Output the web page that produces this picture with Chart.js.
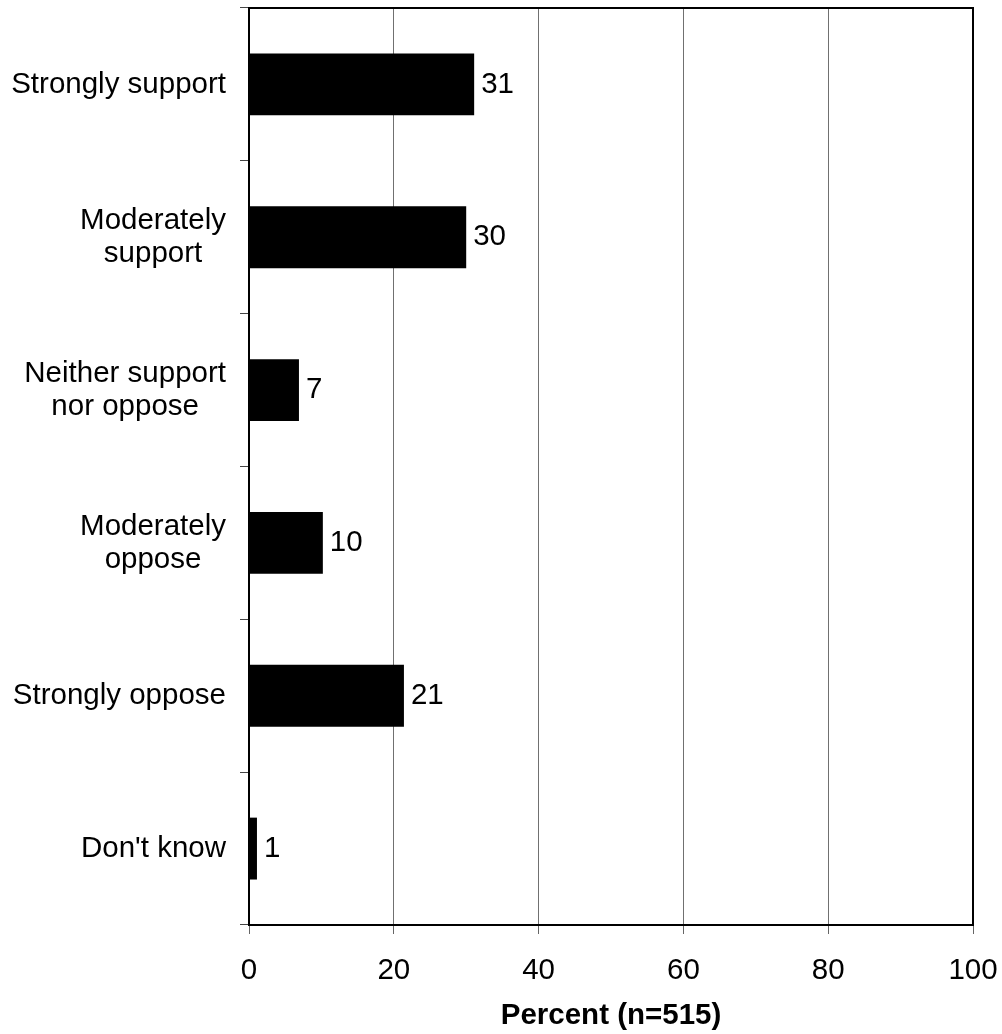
<!DOCTYPE html>
<html>
<head>
<meta charset="utf-8">
<style>
  html, body { margin: 0; padding: 0; background: #fff; }
  #wrap { width: 1002px; height: 1034px; }
</style>
<script src="https://cdn.jsdelivr.net/npm/chart.js@4.4.1/dist/chart.umd.min.js"></script>
</head>
<body>
<div id="wrap"><canvas id="chart"></canvas></div>
<script>
const categories = [
  ["Strongly support"],
  ["Moderately", "support"],
  ["Neither support", "nor oppose"],
  ["Moderately", "oppose"],
  ["Strongly oppose"],
  ["Don't know"],
];
const percentValues = [31.1, 30, 6.9, 10.2, 21.4, 1.1];
const percentLabels = ["31", "30", "7", "10", "21", "1"];
const xTicks = [0, 20, 40, 60, 80, 100];

const FONT = "'Liberation Sans', Arial, sans-serif";
const FONT_SIZE = 29.5;

// Frame (top + right borders)
const framePlugin = {
  id: "frame",
  afterDraw: (chart) => {
    const { ctx, chartArea } = chart;
    ctx.save();
    ctx.strokeStyle = "#000";
    ctx.lineWidth = 2;
    ctx.beginPath();
    ctx.moveTo(chartArea.left, chartArea.top);
    ctx.lineTo(chartArea.right, chartArea.top);
    ctx.lineTo(chartArea.right, chartArea.bottom);
    ctx.stroke();
    ctx.restore();
  },
};

// Category labels: block right aligned, lines centered
const categoryPlugin = {
  id: "categoryLabels",
  afterDraw: (chart) => {
    const { ctx } = chart;
    const yScale = chart.scales.y;
    ctx.save();
    ctx.font = `${FONT_SIZE}px ${FONT}`;
    ctx.fillStyle = "#000";
    ctx.textAlign = "center";
    ctx.textBaseline = "middle";
    const lineHeight = 33;
    categories.forEach((lines, i) => {
      const maxW = Math.max(...lines.map((l) => ctx.measureText(l).width));
      const cx = 226 - maxW / 2;
      const cy = yScale.getPixelForValue(i);
      const startY = cy - ((lines.length - 1) * lineHeight) / 2;
      lines.forEach((line, j) => {
        ctx.fillText(line, cx, startY + j * lineHeight);
      });
    });
    ctx.restore();
  },
};

// Value labels at bar ends
const valuePlugin = {
  id: "valueLabels",
  afterDatasetsDraw: (chart) => {
    const { ctx } = chart;
    const meta = chart.getDatasetMeta(0);
    ctx.save();
    ctx.font = `${FONT_SIZE}px ${FONT}`;
    ctx.fillStyle = "#000";
    ctx.textAlign = "left";
    ctx.textBaseline = "middle";
    meta.data.forEach((bar, i) => {
      ctx.fillText(percentLabels[i], bar.x + 7, bar.y);
    });
    ctx.restore();
  },
};

new Chart(document.querySelector("#chart"), {
  type: "bar",
  data: {
    labels: categories.map((c) => c.join(" ")),
    datasets: [
      {
        data: percentValues,
        backgroundColor: "#000",
        borderWidth: 0,
        barPercentage: 0.405,
        categoryPercentage: 1,
      },
    ],
  },
  options: {
    indexAxis: "y",
    responsive: true,
    maintainAspectRatio: false,
    animation: false,
    layout: {
      padding: { top: 8, right: 29, bottom: 0, left: 0 },
    },
    plugins: {
      legend: { display: false },
      tooltip: { enabled: false },
    },
    scales: {
      x: {
        min: 0,
        max: 100,
        afterBuildTicks: (scale) => {
          scale.ticks = xTicks.map((v) => ({ value: v }));
        },
        afterFit: (scale) => {
          scale.height = 109;
          scale.paddingLeft = 0;
          scale.paddingRight = 0;
        },
        grid: {
          color: "#707070",
          lineWidth: 1,
          tickLength: 9,
          tickColor: "#666",
        },
        border: { display: true, color: "#000", width: 2 },
        ticks: {
          color: "#000",
          font: { family: FONT, size: FONT_SIZE },
          padding: 19,
        },
        title: {
          display: true,
          text: "Percent (n=515)",
          color: "#000",
          font: { family: FONT, size: FONT_SIZE, weight: "bold" },
          padding: { top: 0, bottom: 0 },
        },
      },
      y: {
        type: "category",
        afterFit: (scale) => {
          scale.width = 249;
        },
        grid: {
          offset: true,
          drawOnChartArea: false,
          drawTicks: true,
          tickLength: 9,
          tickColor: "#444",
          lineWidth: 1,
        },
        border: { display: true, color: "#000", width: 2 },
        ticks: { display: false },
      },
    },
  },
  plugins: [framePlugin, categoryPlugin, valuePlugin],
});
</script>
</body>
</html>
